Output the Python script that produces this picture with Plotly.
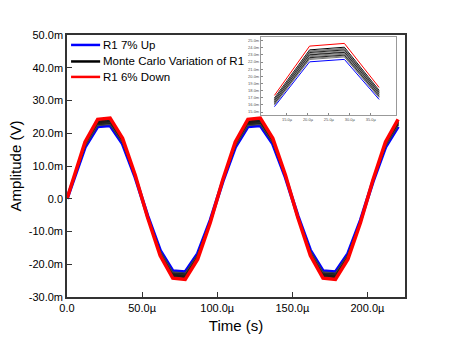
import plotly.graph_objects as go

# Time points (microseconds)
time_us = [0, 12.0, 20.4, 28.7, 37.0, 45.4, 53.7, 62.0, 70.4, 78.7, 87.0, 95.4,
           103.7, 112.0, 120.4, 128.7, 137.0, 145.4, 153.7, 162.0, 170.4, 178.7,
           187.0, 195.4, 203.7, 212.0, 220.4]
# Normalised waveform (unit amplitude)
shape = [0, 0.685, 0.958, 0.973, 0.729, 0.286, -0.230, -0.685, -0.958, -0.973,
         -0.729, -0.286, 0.230, 0.685, 0.958, 0.973, 0.729, 0.286, -0.230,
         -0.685, -0.958, -0.973, -0.729, -0.286, 0.230, 0.685, 0.958]
# Amplitudes (mV) of each run
amp_up = 23.0        # R1 7% Up
amp_down = 25.3      # R1 6% Down
amp_mc = [24.75, 24.6, 24.5, 24.35, 24.25, 24.1, 24.0, 23.9, 23.75, 23.6, 23.5, 23.35]

legend_names = ["R1 7% Up", "Monte Carlo Variation of R1", "R1 6% Down"]
legend_colors = ["#0000ff", "#000000", "#ff0000"]

x_tickvals = [0, 50, 100, 150, 200]
x_ticktext = ["0.0", "50.0\u00b5", "100.0\u00b5", "150.0\u00b5", "200.0\u00b5"]
y_tickvals = [-30, -20, -10, 0, 10, 20, 30, 40, 50]
y_ticktext = ["-30.0m", "-20.0m", "-10.0m", "0.0", "10.0m", "20.0m", "30.0m", "40.0m", "50.0m"]

inset_xvals = [15, 20, 25, 30, 35]
inset_xtext = ["15.0\u00b5", "20.0\u00b5", "25.0\u00b5", "30.0\u00b5", "35.0\u00b5"]
inset_yvals = [15, 16, 17, 18, 19, 20, 21, 22, 23, 24, 25]
inset_ytext = [f"{v:.1f}m" for v in inset_yvals]

FONT = "Arial, Liberation Sans, sans-serif"

def wave(a):
    return [a * s for s in shape]

fig = go.Figure()

# Main traces
fig.add_trace(go.Scatter(x=time_us, y=wave(amp_up), mode="lines",
                         line=dict(color="#0000ff", width=3.5), name=legend_names[0]))
for i, a in enumerate(amp_mc):
    fig.add_trace(go.Scatter(x=time_us, y=wave(a), mode="lines",
                             line=dict(color="#000000" if i % 2 == 0 else "#444444", width=1.3),
                             name=legend_names[1]))
fig.add_trace(go.Scatter(x=time_us, y=wave(amp_down), mode="lines",
                         line=dict(color="#ff0000", width=3.5), name=legend_names[2]))

# Inset traces (zoomed on first peak)
sl = slice(1, 5)
fig.add_trace(go.Scatter(x=time_us[sl], y=wave(amp_up)[sl], mode="lines",
                         line=dict(color="#0000ff", width=1), name=legend_names[0],
                         xaxis="x2", yaxis="y2"))
for i, a in enumerate(amp_mc):
    fig.add_trace(go.Scatter(x=time_us[sl], y=wave(a)[sl], mode="lines",
                             line=dict(color="#000000" if i % 3 == 0 else "#777777", width=1),
                             name=legend_names[1], xaxis="x2", yaxis="y2"))
fig.add_trace(go.Scatter(x=time_us[sl], y=wave(amp_down)[sl], mode="lines",
                         line=dict(color="#ff0000", width=1), name=legend_names[2],
                         xaxis="x2", yaxis="y2"))

# Compact legend drawn with shapes + annotations (tighter row spacing than plotly legend)
leg_rows = [0.962, 0.899, 0.840]
for name, color, yy in zip(legend_names, legend_colors, leg_rows):
    fig.add_shape(type="line", xref="paper", yref="paper", x0=0.012, x1=0.098,
                  y0=yy, y1=yy, line=dict(color=color, width=2.5))
    fig.add_annotation(xref="paper", yref="paper", x=0.100, y=yy, text=name,
                       showarrow=False, xanchor="left", yanchor="middle",
                       font=dict(size=11.5, family=FONT, color="#000000"))

fig.update_layout(
    width=450, height=350,
    margin=dict(l=67, r=45, t=35, b=53),
    paper_bgcolor="white", plot_bgcolor="white",
    font=dict(family=FONT, color="#000000"),
    showlegend=False,
    xaxis=dict(range=[0, 225], tickvals=x_tickvals, ticktext=x_ticktext,
               ticks="inside", ticklen=5, tickcolor="#333", showgrid=False,
               zeroline=False, showline=True, linecolor="#333", linewidth=1.5,
               mirror=True, tickfont=dict(size=11),
               title=dict(text="Time (s)", font=dict(size=15), standoff=8)),
    yaxis=dict(range=[-30, 50], tickvals=y_tickvals, ticktext=y_ticktext,
               ticks="inside", ticklen=5, tickcolor="#333", showgrid=False,
               zeroline=False, showline=True, linecolor="#333", linewidth=1.5,
               mirror=True, tickfont=dict(size=11),
               title=dict(text="Amplitude (V)", font=dict(size=15), standoff=4)),
    xaxis2=dict(domain=[0.574, 0.973], anchor="y2", range=[8.8, 41.0],
                tickvals=inset_xvals, ticktext=inset_xtext, ticks="inside",
                ticklen=2, tickcolor="#888", tickfont=dict(size=4, color="#555"),
                showgrid=False, zeroline=False, showline=True, linecolor="#999",
                linewidth=1, mirror=True),
    yaxis2=dict(domain=[0.695, 0.992], anchor="x2", range=[14.6, 25.5],
                tickvals=inset_yvals, ticktext=inset_ytext, ticks="inside",
                ticklen=2, tickcolor="#888", tickfont=dict(size=4, color="#555"),
                showgrid=False, zeroline=False, showline=True, linecolor="#999",
                linewidth=1, mirror=True),
)

fig.write_html("out.html")
